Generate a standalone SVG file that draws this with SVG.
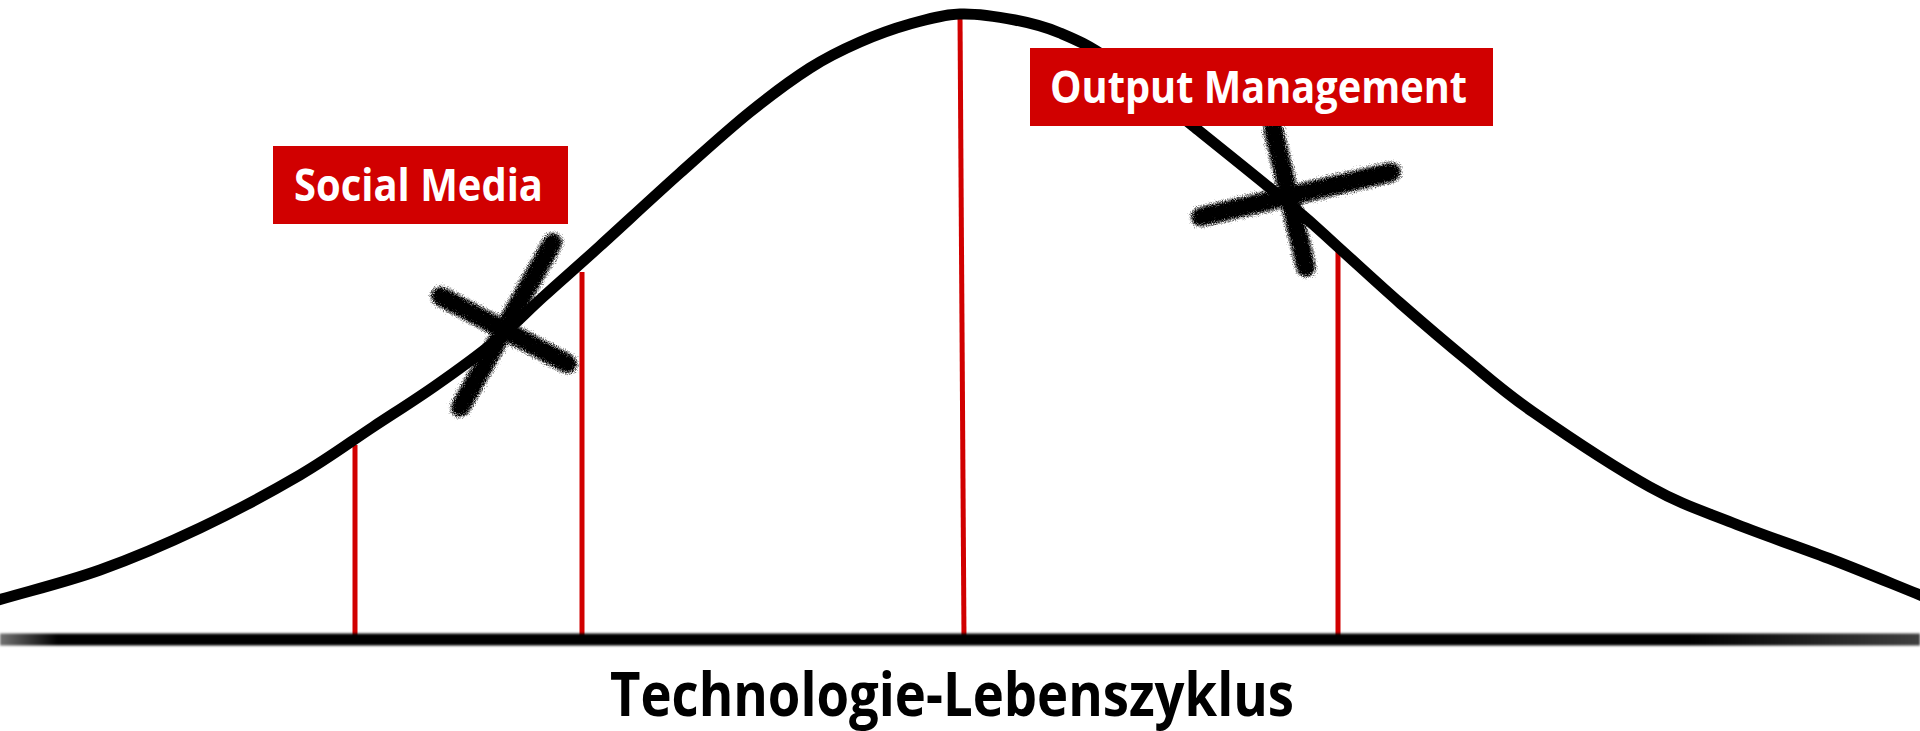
<svg xmlns="http://www.w3.org/2000/svg" width="1920" height="731" viewBox="0 0 1920 731">
  <style>
    .label-bg { fill: #d10000; }
    .label-text { font-family: "Open Sans", "Liberation Sans", sans-serif; font-weight: 700; font-size: 45px; fill: #ffffff; }
    .title { font-family: "Open Sans", "Liberation Sans", sans-serif; font-weight: 700; font-size: 61px; fill: #000000; }
    .marker { stroke: #d10000; stroke-width: 5; fill: none; }
    .curve { stroke: #000000; stroke-width: 11; fill: none; stroke-linecap: round; stroke-linejoin: round; }
    .brush { stroke: #000000; stroke-width: 21; stroke-linecap: round; fill: none; filter: url(#brushFx); }
  </style>
  <defs>
    <linearGradient id="axisGrad" x1="0" y1="0" x2="1920" y2="0" gradientUnits="userSpaceOnUse">
      <stop offset="0" stop-color="#000" stop-opacity="0.55"/>
      <stop offset="0.03" stop-color="#000" stop-opacity="1"/>
      <stop offset="0.88" stop-color="#000" stop-opacity="1"/>
      <stop offset="1" stop-color="#000" stop-opacity="0.75"/>
    </linearGradient>
    <filter id="soft" filterUnits="userSpaceOnUse" x="-10" y="620" width="1940" height="40">
      <feGaussianBlur stdDeviation="0.9"/>
    </filter>
    <filter id="brushFx" x="-40%" y="-40%" width="180%" height="180%">
      <feTurbulence type="fractalNoise" baseFrequency="0.9" numOctaves="2" seed="4" result="n"/>
      <feColorMatrix in="n" type="matrix" values="0 0 0 0 0  0 0 0 0 0  0 0 0 0 0  1.6 0 0 0 -0.3" result="na"/>
      <feGaussianBlur in="SourceAlpha" stdDeviation="4.5" result="b"/>
      <feComposite in="b" in2="na" operator="arithmetic" k1="0" k2="2.3" k3="1" k4="-1.3" result="m"/>
      <feFlood flood-color="#000000"/>
      <feComposite in2="m" operator="in"/>
    </filter>
  </defs>

  <rect x="0" y="0" width="1920" height="731" fill="#ffffff"/>

  <g id="connectors">
    <line class="marker" x1="355" y1="445" x2="355" y2="639"/>
    <line class="marker" x1="582" y1="272" x2="582" y2="639"/>
    <line class="marker" x1="960" y1="16" x2="964" y2="639"/>
    <line class="marker" x1="1338" y1="250" x2="1338" y2="639"/>
  </g>

  <g id="axis">
    <rect x="0" y="633.5" width="1920" height="12" fill="url(#axisGrad)" filter="url(#soft)"/>
  </g>

  <g id="curve">
    <path class="curve" d="M -5 601 C 30 590.7 65.8 582.2 100 570 C 134.2 557.8 166.7 543.8 200 528 C 233.3 512.2 271.2 491.8 300 475 C 328.8 458.2 350.5 441.8 373 427 C 395.5 412.2 415 400 435 386 C 455 372 475 357.8 493 343 C 511 328.2 525.2 313.2 543 297 C 560.8 280.8 577.2 266.7 600 246 C 622.8 225.3 655 195.3 680 173 C 705 150.7 728.3 129.5 750 112 C 771.7 94.5 791.7 79.7 810 68 C 828.3 56.3 843.3 49.3 860 42 C 876.7 34.7 893.3 28.7 910 24 C 926.7 19.3 942.5 14.7 960 14 C 977.5 13.3 998.3 16.8 1015 20 C 1031.7 23.2 1044.2 26.3 1060 33 C 1075.8 39.7 1087.8 44.5 1110 60 C 1132.2 75.5 1162.5 101.5 1193 126 C 1223.5 150.5 1268.8 186.8 1293 207 C 1317.2 227.2 1320.2 231 1338 247 C 1355.8 263 1378.5 284.2 1400 303 C 1421.5 321.8 1444.8 341.8 1467 360 C 1489.2 378.2 1502.5 390.8 1533 412 C 1563.5 433.2 1616.7 468.5 1650 487 C 1683.3 505.5 1702.5 510.8 1733 523 C 1763.5 535.2 1801 547.7 1833 560 C 1865 572.3 1894.3 584.7 1925 597"/>
  </g>

  <g id="x-social">
    <line class="brush" x1="553" y1="242" x2="460" y2="408"/>
    <line class="brush" x1="440" y1="296" x2="568" y2="364"/>
  </g>

  <g id="x-output">
    <line class="brush" x1="1273" y1="128" x2="1306" y2="268"/>
    <line class="brush" x1="1200" y1="217" x2="1392" y2="172"/>
  </g>

  <g id="social-media">
    <rect class="label-bg" x="273" y="146" width="295" height="78"/>
    <text class="label-text" x="294" y="201" textLength="249" lengthAdjust="spacingAndGlyphs">Social Media</text>
  </g>

  <g id="output-management">
    <rect class="label-bg" x="1030" y="48" width="463" height="78"/>
    <text class="label-text" x="1050" y="103" textLength="417" lengthAdjust="spacingAndGlyphs">Output Management</text>
  </g>

  <g id="title">
    <text class="title" x="610" y="716" textLength="684" lengthAdjust="spacingAndGlyphs">Technologie-Lebenszyklus</text>
  </g>
</svg>
